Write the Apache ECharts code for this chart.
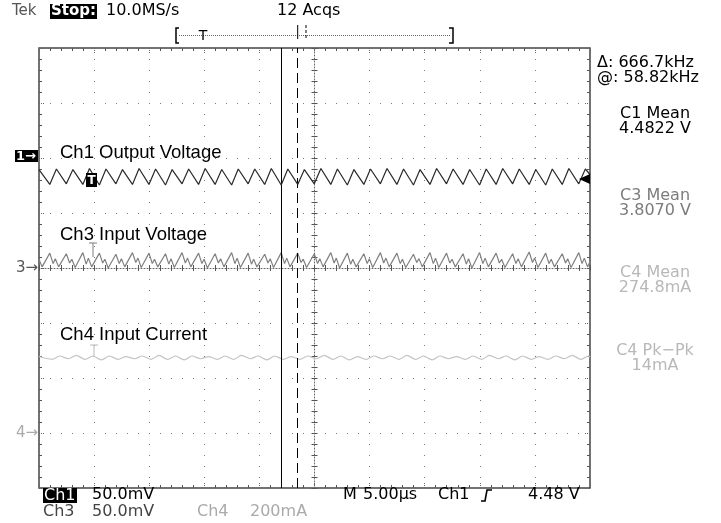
<!DOCTYPE html>
<html><head><meta charset="utf-8">
<script src="https://cdn.jsdelivr.net/npm/echarts@6/dist/echarts.min.js"></script>
<style>html,body{margin:0;padding:0;background:#fff}#c{width:721px;height:523px}</style>
</head><body><div id="c"></div>
<script>
// ---- data (time in µs from screen centre, level in divisions from screen centre) ----
const ch1Time = [-25.00,
 -24.02,-23.42, -22.52,-21.92, -21.02,-20.42, -19.52,-18.92, -18.02,-17.42,
 -16.52,-15.92, -15.02,-14.42, -13.52,-12.92, -12.02,-11.42, -10.52,-9.92,
 -9.02,-8.42, -7.52,-6.92, -6.02,-5.42, -4.52,-3.92, -3.02,-2.42,
 -1.52,-0.92, -0.02,0.58, 1.48,2.08, 2.98,3.58, 4.48,5.08,
 5.98,6.58, 7.48,8.08, 8.98,9.58, 10.48,11.08, 11.98,12.58,
 13.48,14.08, 14.98,15.58, 16.48,17.08, 17.98,18.58, 19.48,20.08,
 20.98,21.58, 22.48,23.08, 23.98,24.58,
 25.00];
const ch1Val = [1.79,
 1.52,1.80, 1.53,1.79, 1.52,1.81, 1.51,1.80, 1.53,1.79,
 1.52,1.81, 1.52,1.80, 1.51,1.79, 1.53,1.80, 1.52,1.81,
 1.52,1.79, 1.51,1.80, 1.53,1.80, 1.52,1.81, 1.51,1.80,
 1.52,1.79, 1.53,1.81, 1.52,1.80, 1.51,1.79, 1.52,1.80,
 1.53,1.81, 1.52,1.80, 1.51,1.79, 1.52,1.81, 1.53,1.80,
 1.52,1.79, 1.51,1.80, 1.52,1.81, 1.53,1.80, 1.52,1.79,
 1.51,1.80, 1.52,1.81, 1.53,1.80,
 1.70];

const ch3Time = [-25.00, -24.72,
 -24.02,-23.72,-23.52,-23.22, -22.52,-22.22,-22.02,-21.72, -21.02,-20.72,-20.52,-20.22,
 -19.52,-19.22,-19.02,-18.72, -18.02,-17.72,-17.52,-17.22, -16.52,-16.22,-16.02,-15.72,
 -15.02,-14.72,-14.52,-14.22, -13.52,-13.22,-13.02,-12.72, -12.02,-11.72,-11.52,-11.22,
 -10.52,-10.22,-10.02,-9.72, -9.02,-8.72,-8.52,-8.22, -7.52,-7.22,-7.02,-6.72,
 -6.02,-5.72,-5.52,-5.22, -4.52,-4.22,-4.02,-3.72, -3.02,-2.72,-2.52,-2.22,
 -1.52,-1.22,-1.02,-0.72, -0.02,0.28,0.48,0.78, 1.48,1.78,1.98,2.28,
 2.98,3.28,3.48,3.78, 4.48,4.78,4.98,5.28, 5.98,6.28,6.48,6.78,
 7.48,7.78,7.98,8.28, 8.98,9.28,9.48,9.78, 10.48,10.78,10.98,11.28,
 11.98,12.28,12.48,12.78, 13.48,13.78,13.98,14.28, 14.98,15.28,15.48,15.78,
 16.48,16.78,16.98,17.28, 17.98,18.28,18.48,18.78, 19.48,19.78,19.98,20.28,
 20.98,21.28,21.48,21.78, 22.48,22.78,22.98,23.28, 23.98,24.28,24.48,24.78,
 25.00];
const ch3Val = [0.16, 0.02,
 0.27,0.08,0.17,0.02, 0.26,0.09,0.16,0.01, 0.28,0.07,0.18,0.02,
 0.27,0.09,0.16,0.00, 0.25,0.08,0.17,0.02, 0.28,0.10,0.18,0.01,
 0.27,0.08,0.16,0.02, 0.26,0.07,0.17,0.01, 0.28,0.09,0.18,0.02,
 0.27,0.08,0.16,0.00, 0.26,0.09,0.17,0.02, 0.28,0.08,0.18,0.01,
 0.27,0.07,0.16,0.02, 0.25,0.09,0.17,0.01, 0.28,0.08,0.18,0.02,
 0.27,0.10,0.16,0.01, 0.26,0.08,0.17,0.02, 0.28,0.09,0.18,0.00,
 0.27,0.07,0.16,0.02, 0.26,0.08,0.17,0.01, 0.28,0.09,0.18,0.02,
 0.27,0.08,0.16,0.01, 0.25,0.10,0.17,0.02, 0.28,0.08,0.18,0.01,
 0.27,0.09,0.16,0.02, 0.26,0.07,0.17,0.00, 0.28,0.08,0.18,0.02,
 0.27,0.09,0.16,0.01, 0.26,0.08,0.17,0.02, 0.29,0.10,0.18,0.01,
 0.27,0.08,0.16,0.02, 0.26,0.09,0.17,0.01, 0.28,0.08,0.18,0.02,
 0.12];

const ch4Time = [-25.00,
 -23.82,-23.12, -22.32,-21.62, -20.82,-20.12, -19.32,-18.62, -17.82,-17.12,
 -16.32,-15.62, -14.82,-14.12, -13.32,-12.62, -11.82,-11.12, -10.32,-9.62,
 -8.82,-8.12, -7.32,-6.62, -5.82,-5.12, -4.32,-3.62, -2.82,-2.12,
 -1.32,-0.62, 0.18,0.88, 1.68,2.38, 3.18,3.88, 4.68,5.38,
 6.18,6.88, 7.68,8.38, 9.18,9.88, 10.68,11.38, 12.18,12.88,
 13.68,14.38, 15.18,15.88, 16.68,17.38, 18.18,18.88, 19.68,20.38,
 21.18,21.88, 22.68,23.38, 24.18,24.88,
 25.00];
const ch4Val = [-1.61,
 -1.66,-1.60, -1.65,-1.59, -1.66,-1.60, -1.67,-1.60, -1.66,-1.61,
 -1.65,-1.60, -1.66,-1.59, -1.66,-1.60, -1.67,-1.60, -1.65,-1.61,
 -1.66,-1.60, -1.66,-1.59, -1.65,-1.60, -1.67,-1.60, -1.66,-1.61,
 -1.66,-1.60, -1.65,-1.59, -1.66,-1.60, -1.67,-1.61, -1.66,-1.60,
 -1.65,-1.60, -1.66,-1.59, -1.66,-1.60, -1.67,-1.60, -1.65,-1.61,
 -1.66,-1.60, -1.66,-1.59, -1.65,-1.60, -1.67,-1.60, -1.66,-1.61,
 -1.66,-1.60, -1.65,-1.59, -1.66,-1.60,
 -1.62];

const cursorTimes = [-3.02, -1.52];
const traceLabels = ['Ch1 Output Voltage', 'Ch3 Input Voltage', 'Ch4 Input Current'];
const readouts = ['C1 Mean', '4.4822 V', 'C3 Mean', '3.8070 V', 'C4 Mean', '274.8mA', 'C4 Pk\u2212Pk', '14mA'];

// ---- chart ----
const zip = (t, v) => t.map((x, i) => [x, v[i]]);
const TEK = 'DejaVu Sans';
const dotted = {color: '#7a7a7a', width: 1, type: [1, 10]};
const tickStyle = {color: '#555', width: 1};

function txt(x, y, s, o) {
  o = o || {};
  const al = o.align || 'left';
  return {type: 'text', x: x, y: y, z: 100, silent: true, scaleX: o.sx || 1,
    style: {text: s, x: 0, y: 0, fill: o.fill || '#000',
      font: (o.weight ? o.weight + ' ' : '') + (o.size || 16) + 'px "' + (o.family || TEK) + '"',
      align: al, textAlign: al, verticalAlign: 'middle', textVerticalAlign: 'middle'}};
}
function rect(x, y, w, h, fill) {
  return {type: 'rect', z: 99, silent: true, shape: {x: x, y: y, width: w, height: h}, style: {fill: fill || '#000'}};
}
function pl(points, stroke, width, dash) {
  return {type: 'polyline', z: 99, silent: true, shape: {points: points},
    style: {stroke: stroke || '#000', lineWidth: width || 1, fill: null, lineDash: dash || null}};
}

function centreX(inside) {
  return {type: 'value', min: -25, max: 25, interval: 5, position: 'bottom',
    axisLine: {show: inside, onZero: true, onZeroAxisIndex: 0, lineStyle: {color: '#666', width: 1, type: [1, 2]}},
    axisTick: {show: true, inside: inside, length: 3, lineStyle: tickStyle},
    minorTick: {show: true, splitNumber: 5, length: 3, lineStyle: tickStyle},
    axisLabel: {show: false}, splitLine: {show: inside, lineStyle: dotted}, minorSplitLine: {show: false}};
}
function borderX(pos) {
  return {type: 'value', min: -25, max: 25, interval: 5, position: pos,
    axisLine: {show: false, onZero: false},
    axisTick: {show: true, inside: true, length: 6, lineStyle: {color: '#666', width: 1, type: [1, 1]}},
    minorTick: {show: true, splitNumber: 5, length: 3, lineStyle: tickStyle},
    axisLabel: {show: false}, splitLine: {show: false}};
}
function centreY(inside) {
  return {type: 'value', min: -4, max: 4, interval: 1, position: 'left',
    axisLine: {show: inside, onZero: true, onZeroAxisIndex: 0, lineStyle: {color: '#666', width: 1, type: [1, 2]}},
    axisTick: {show: true, inside: inside, length: 3, lineStyle: tickStyle},
    minorTick: {show: true, splitNumber: 5, length: 3, lineStyle: tickStyle},
    axisLabel: {show: false}, splitLine: {show: inside, lineStyle: dotted}, minorSplitLine: {show: false}};
}
function borderY(pos) {
  return {type: 'value', min: -4, max: 4, interval: 1, position: pos,
    axisLine: {show: false, onZero: false},
    axisTick: {show: true, inside: true, length: 6, lineStyle: {color: '#666', width: 1, type: [1, 1]}},
    minorTick: {show: true, splitNumber: 5, length: 3, lineStyle: tickStyle},
    axisLabel: {show: false}, splitLine: {show: false}};
}

const chart = echarts.init(document.getElementById('c'), null, {renderer: 'canvas'});
const grey3 = '#7c7c7c', grey4 = '#b8b8b8';

const graphics = [
  // header
  txt(12, 11, 'Tek', {fill: '#555', size: 15}),
  rect(50, 4, 47, 15),
  txt(51, 11.5, 'Stop:', {fill: '#fff', size: 15, weight: 'bold'}),
  txt(106, 11, '10.0MS/s'),
  txt(277, 11, '12 Acqs'),
  pl([[179, 28], [176, 28], [176, 43], [179, 43]], '#000', 1.5),
  pl([[179, 35.5], [450, 35.5]], '#666', 1, [1, 1]),
  pl([[449, 28], [453, 28], [453, 43], [449, 43]], '#000', 1.5),
  txt(203, 36, 'T', {align: 'center', size: 14}),
  pl([[297.7, 25], [297.7, 39]], '#000', 1),
  pl([[306, 25], [306, 39]], '#000', 1, [3, 2]),
  // right readouts
  txt(597, 63, '\u0394: 666.7kHz'),
  txt(597, 78, '@: 58.82kHz'),
  txt(655, 114, readouts[0], {align: 'center'}),
  txt(655, 129, readouts[1], {align: 'center'}),
  txt(655, 196, readouts[2], {align: 'center', fill: grey3}),
  txt(655, 211, readouts[3], {align: 'center', fill: grey3}),
  txt(655, 273, readouts[4], {align: 'center', fill: grey4}),
  txt(655, 288, readouts[5], {align: 'center', fill: grey4}),
  txt(655, 351, readouts[6], {align: 'center', fill: grey4}),
  txt(655, 366, readouts[7], {align: 'center', fill: grey4}),
  // trace labels
  txt(60, 153, traceLabels[0], {family: 'Liberation Sans', size: 18.5}),
  txt(60, 235, traceLabels[1], {family: 'Liberation Sans', size: 18.5}),
  txt(60, 335, traceLabels[2], {family: 'Liberation Sans', size: 18.5}),
  // channel markers
  rect(15, 150, 23, 12),
  txt(16, 156.5, '1\u2192', {fill: '#fff', size: 13, weight: 'bold'}),
  txt(38, 268, '3\u2192', {fill: '#555', size: 15, align: 'right'}),
  txt(38, 433, '4\u2192', {fill: '#aaa', size: 15, align: 'right'}),
  rect(86, 173, 11, 14),
  txt(91.5, 180.5, 'T', {fill: '#fff', size: 12, weight: 'bold', align: 'center'}),
  pl([[89, 243], [97, 243]], grey3, 1), pl([[93, 243], [93, 257]], grey3, 1),
  pl([[90, 345], [98, 345]], grey4, 1), pl([[94, 345], [94, 357]], grey4, 1),
  {type: 'polygon', z: 99, silent: true, shape: {points: [[579, 179], [590, 174], [590, 184]]}, style: {fill: '#000'}},
  // footer
  rect(43, 488, 34, 15),
  txt(44, 495.5, 'Ch1', {fill: '#fff'}),
  txt(92, 495, '50.0mV'),
  txt(43, 512, 'Ch3', {fill: '#444'}),
  txt(92, 512, '50.0mV', {fill: '#444'}),
  txt(197, 512, 'Ch4', {fill: '#aaa'}),
  txt(250, 512, '200mA', {fill: '#aaa'}),
  txt(343, 495, 'M'),
  txt(363, 495, '5.00\u00b5s'),
  txt(438, 495, 'Ch1'),
  pl([[481, 501], [485, 501], [487, 490], [492, 490]], '#000', 1.6),
  txt(528, 495, '4.48 V')
];

chart.setOption({
  animation: false,
  backgroundColor: '#fff',
  grid: {left: 39, top: 48, width: 551, height: 440, show: true, borderColor: '#444', borderWidth: 1.5, backgroundColor: 'transparent', containLabel: false},
  xAxis: [centreX(true), centreX(false), borderX('top'), borderX('bottom')],
  yAxis: [centreY(true), centreY(false), borderY('left'), borderY('right')],
  series: [
    {type: 'line', name: 'Ch4', data: zip(ch4Time, ch4Val), showSymbol: false, smooth: 0.3, z: 3,
     lineStyle: {color: '#c4c4c4', width: 1.2}},
    {type: 'line', name: 'Ch3', data: zip(ch3Time, ch3Val), showSymbol: false, z: 4,
     lineStyle: {color: '#808080', width: 1.2}},
    {type: 'line', name: 'Ch1', data: zip(ch1Time, ch1Val), showSymbol: false, z: 5,
     lineStyle: {color: '#2a2a2a', width: 1.2},
     markLine: {silent: true, symbol: ['none', 'none'], label: {show: false}, animation: false,
       lineStyle: {color: '#000', width: 1, type: 'solid'},
       emphasis: {disabled: true},
       data: [{xAxis: cursorTimes[0]}, {xAxis: cursorTimes[1], lineStyle: {color: '#000', width: 1, type: [10, 5]}}]}}
  ],
  graphic: graphics
});
</script>
</body></html>
